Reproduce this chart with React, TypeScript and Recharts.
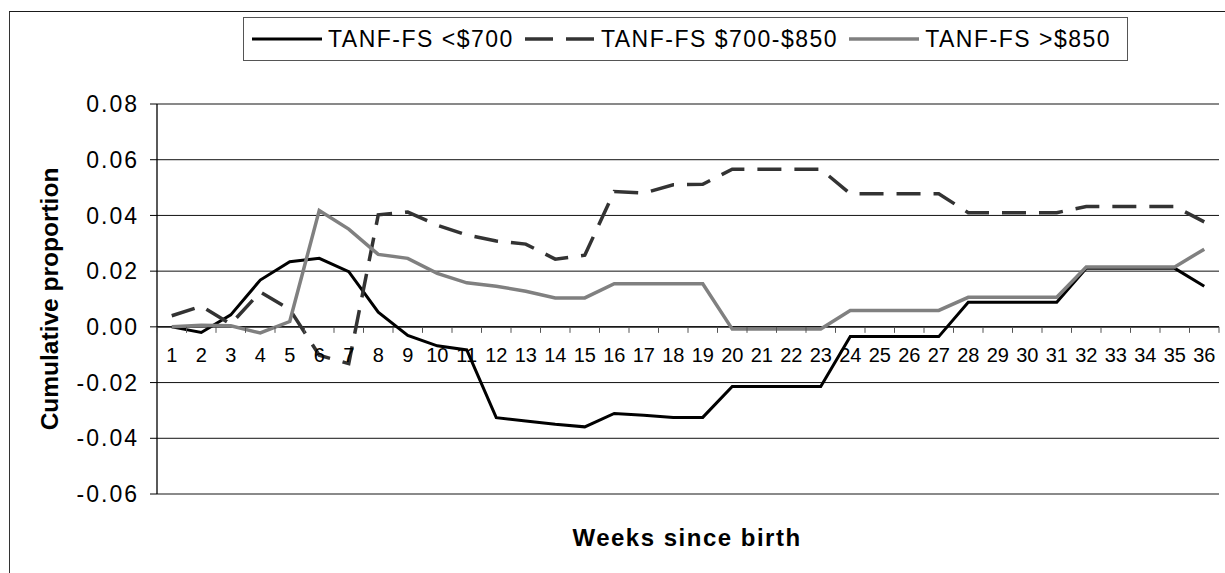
import React from "react";
import {
  LineChart,
  Line,
  XAxis,
  YAxis,
  CartesianGrid,
  ReferenceLine,
  Legend,
} from "recharts";

// weeks since birth (category axis)
const weeks = [
  "1", "2", "3", "4", "5", "6", "7", "8", "9", "10", "11", "12",
  "13", "14", "15", "16", "17", "18", "19", "20", "21", "22", "23", "24",
  "25", "26", "27", "28", "29", "30", "31", "32", "33", "34", "35", "36",
];

// cumulative proportion
const under700 = [
  0.0, -0.002, 0.0043, 0.0168, 0.0234, 0.0246, 0.0198, 0.0053, -0.0031, -0.0068, -0.0083, -0.0326,
  -0.0338, -0.035, -0.0359, -0.0311, -0.0317, -0.0325, -0.0325, -0.0214, -0.0214, -0.0214, -0.0214, -0.0035,
  -0.0035, -0.0035, -0.0035, 0.0088, 0.0088, 0.0088, 0.0088, 0.021, 0.021, 0.021, 0.021, 0.0146,
];
const from700to850 = [
  0.004, 0.0074, 0.001, 0.0125, 0.0063, -0.0102, -0.0132, 0.0402, 0.0412, 0.0365, 0.033, 0.0308,
  0.0297, 0.0243, 0.0257, 0.0486, 0.048, 0.051, 0.0512, 0.0566, 0.0566, 0.0566, 0.0566, 0.0478,
  0.0478, 0.0478, 0.0478, 0.041, 0.041, 0.041, 0.041, 0.0432, 0.0432, 0.0432, 0.0432, 0.0377,
];
const over850 = [
  0.0, 0.0006, 0.0004, -0.0022, 0.0019, 0.0418, 0.0351, 0.026, 0.0246, 0.0192, 0.0158, 0.0146,
  0.0128, 0.0104, 0.0104, 0.0155, 0.0155, 0.0155, 0.0155, -0.0008, -0.0008, -0.0008, -0.0008, 0.0059,
  0.0059, 0.0059, 0.0059, 0.0106, 0.0106, 0.0106, 0.0106, 0.0215, 0.0215, 0.0215, 0.0215, 0.0279,
];

const yTicks = [-0.06, -0.04, -0.02, 0.0, 0.02, 0.04, 0.06, 0.08];

const SERIES = [
  { key: "a", name: "TANF-FS <$700", color: "#000000", width: 3, dash: undefined, legendDash: undefined },
  { key: "b", name: "TANF-FS $700-$850", color: "#333333", width: 3.5, dash: "24 13", legendDash: "28 13" },
  { key: "c", name: "TANF-FS >$850", color: "#808080", width: 3.5, dash: undefined, legendDash: undefined },
];

const data = weeks.map((week, i) => ({
  week,
  a: under700[i],
  b: from700to850[i],
  c: over850[i],
}));

const W = 1225;
const H = 573;
const TOP = 104;
const PLOT_LEFT = 157;
const PLOT_RIGHT = 1219;
const PLOT_BOTTOM = 494;
const Y_MIN = -0.06;
const Y_MAX = 0.08;
const BAND = (PLOT_RIGHT - PLOT_LEFT) / weeks.length;
const ZERO_Y = TOP + ((PLOT_BOTTOM - TOP) * Y_MAX) / (Y_MAX - Y_MIN);
const FONT = "'Liberation Sans', Arial, sans-serif";

// x axis crosses at 0, so labels and tick marks are drawn there
function WeekTick(props: any) {
  const { x, payload, index, visibleTicksCount } = props;
  const last = index === visibleTicksCount - 1;
  return (
    <g>
      <line x1={x - BAND / 2} x2={x - BAND / 2} y1={ZERO_Y} y2={ZERO_Y + 6} stroke="#555" />
      {last && <line x1={x + BAND / 2} x2={x + BAND / 2} y1={ZERO_Y} y2={ZERO_Y + 6} stroke="#555" />}
      <text x={x} y={ZERO_Y + 35} textAnchor="middle" fontSize={20} fontFamily={FONT} fill="#000">
        {payload.value}
      </text>
    </g>
  );
}

function LegendBox() {
  return (
    <div
      style={{
        boxSizing: "border-box",
        width: 885,
        height: 44,
        border: "1px solid #555",
        background: "#fff",
        display: "flex",
        alignItems: "center",
        paddingLeft: 8,
        fontFamily: FONT,
        fontSize: 23,
        letterSpacing: 1.5,
        color: "#000",
        whiteSpace: "nowrap",
      }}
    >
      {SERIES.map((s) => (
        <div key={s.key} style={{ display: "flex", alignItems: "center", marginRight: 11 }}>
          <svg width={70} height={10} style={{ marginRight: 6 }}>
            <line x1={0} x2={70} y1={5} y2={5} stroke={s.color} strokeWidth={s.width} strokeDasharray={s.legendDash} />
          </svg>
          <span>{s.name}</span>
        </div>
      ))}
    </div>
  );
}

export default function App() {
  return (
    <div style={{ position: "absolute", left: 0, top: 0, width: W, height: H, background: "#fff" }}>
      <div
        style={{
          position: "absolute",
          left: 9,
          top: 11,
          width: W - 9,
          height: H - 11,
          borderTop: "1px solid #1a1a1a",
          borderLeft: "1px solid #333",
        }}
      />
      <div style={{ position: "absolute", left: 0, top: 0 }}>
        <LineChart
          width={W}
          height={H}
          data={data}
          margin={{ top: TOP, right: W - PLOT_RIGHT, bottom: 0, left: 0 }}
        >
          <CartesianGrid vertical={false} stroke="#111" strokeWidth={1} />
          <XAxis
            dataKey="week"
            interval={0}
            axisLine={false}
            tickLine={false}
            height={H - PLOT_BOTTOM}
            padding={{ left: BAND / 2, right: BAND / 2 }}
            tick={(p: any) => <WeekTick {...p} />}
          />
          <YAxis
            type="number"
            domain={[Y_MIN, Y_MAX]}
            ticks={yTicks}
            allowDataOverflow
            width={PLOT_LEFT}
            tickFormatter={(v: number) => v.toFixed(2)}
            tickSize={7}
            tickMargin={11}
            axisLine={{ stroke: "#000", strokeWidth: 1.3 }}
            tickLine={{ stroke: "#000" }}
            tick={{ fontSize: 23, fill: "#000", fontFamily: FONT, letterSpacing: 2 }}
          />
          <YAxis
            yAxisId="right"
            orientation="right"
            width={0}
            domain={[0, 1]}
            tick={false}
            tickLine={false}
            axisLine={{ stroke: "#8a8a8a", strokeWidth: 2 }}
          />
          <ReferenceLine y={Y_MAX} stroke="#8a8a8a" strokeWidth={1.5} />
          <ReferenceLine y={Y_MIN} stroke="#8a8a8a" strokeWidth={2} />
          <ReferenceLine y={0} stroke="#000" strokeWidth={1.2} />
          <Legend
            verticalAlign="middle"
            align="center"
            wrapperStyle={{ left: 243, top: 17, width: 885, height: 44 }}
            content={() => <LegendBox />}
          />
          {SERIES.map((s) => (
            <Line
              key={s.key}
              type="linear"
              dataKey={s.key}
              name={s.name}
              stroke={s.color}
              strokeWidth={s.width}
              strokeDasharray={s.dash}
              dot={false}
              activeDot={false}
              isAnimationActive={false}
            />
          ))}
        </LineChart>
      </div>
      <div
        style={{
          position: "absolute",
          left: 50,
          top: 299,
          transform: "translate(-50%, -50%) rotate(-90deg)",
          fontFamily: FONT,
          fontWeight: "bold",
          fontSize: 24.5,
          whiteSpace: "nowrap",
          color: "#000",
        }}
      >
        Cumulative proportion
      </div>
      <div
        style={{
          position: "absolute",
          left: 687,
          top: 538,
          transform: "translate(-50%, -50%)",
          fontFamily: FONT,
          fontWeight: "bold",
          fontSize: 24,
          letterSpacing: 1.5,
          whiteSpace: "nowrap",
          color: "#000",
        }}
      >
        Weeks since birth
      </div>
    </div>
  );
}
